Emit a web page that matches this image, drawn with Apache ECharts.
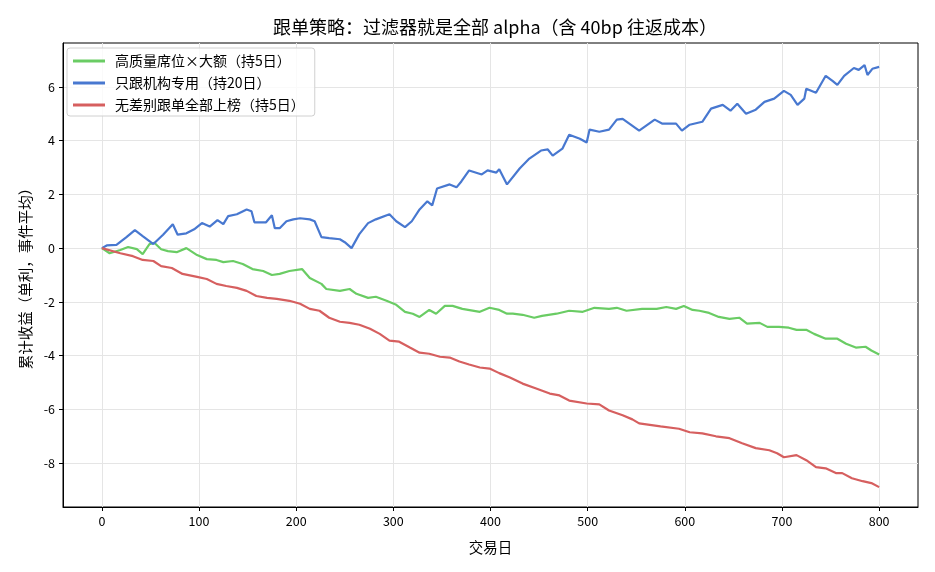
<!DOCTYPE html>
<html>
<head>
<meta charset="utf-8">
<script src="https://cdn.jsdelivr.net/npm/echarts@6/dist/echarts.min.js"></script>
<style>
  html, body { margin: 0; padding: 0; background: #fff; }
  #main { width: 935px; height: 572px; }
</style>
</head>
<body>
<div id="main"></div>
<script>
// 读图估计的数据点 [交易日, 累计收益]
var highQualityData = [
    [0,0],[8,-0.19],[19,-0.07],[27,0.04],[36,-0.04],[42,-0.22],[49,0.15],[54,0.2],[61,-0.04],[68,-0.11],
    [77,-0.15],[87,0.0],[98,-0.26],[108,-0.41],[118,-0.44],[125,-0.52],[135,-0.48],[145,-0.59],[155,-0.78],
    [166,-0.85],[175,-1.0],[183,-0.96],[193,-0.85],[206,-0.78],[214,-1.11],[226,-1.33],[231,-1.52],[245,-1.59],
    [255,-1.52],[262,-1.70],[274,-1.85],[282,-1.81],[293,-1.96],[303,-2.11],[312,-2.37],[320,-2.44],[327,-2.56],
    [337,-2.30],[344,-2.44],[353,-2.15],[361,-2.15],[371,-2.26],[389,-2.37],[399,-2.22],[409,-2.30],[417,-2.44],
    [423,-2.44],[433,-2.48],[445,-2.59],[453,-2.52],[468,-2.44],[481,-2.33],[495,-2.37],[507,-2.22],[522,-2.26],
    [530,-2.22],[540,-2.33],[556,-2.26],[571,-2.26],[581,-2.19],[591,-2.26],[599,-2.15],[608,-2.30],[615,-2.33],
    [625,-2.41],[635,-2.56],[646,-2.63],[656,-2.59],[664,-2.81],[677,-2.78],[685,-2.93],[697,-2.93],[707,-2.96],
    [715,-3.04],[725,-3.04],[733,-3.19],[745,-3.37],[757,-3.37],[766,-3.56],[776,-3.70],[786,-3.67],[792,-3.81],
    [800,-3.96]
];
var institutionData = [
    [0,0],[5,0.1],[15,0.12],[25,0.4],[34,0.67],[42,0.45],[53,0.15],[63,0.5],[73,0.89],[78,0.5],[87,0.55],
    [95,0.7],[103,0.93],[111,0.8],[119,1.04],[125,0.89],[130,1.19],[139,1.26],[149,1.44],[154,1.37],[157,0.96],
    [169,0.96],[175,1.22],[178,0.74],[183,0.74],[190,1.0],[197,1.07],[204,1.11],[214,1.07],[219,1.0],[226,0.41],
    [234,0.37],[245,0.33],[250,0.22],[257,0.0],[265,0.52],[274,0.93],[282,1.07],[296,1.26],[303,1.0],[312,0.78],
    [319,1.0],[327,1.44],[335,1.74],[340,1.59],[345,2.22],[358,2.37],[365,2.26],[370,2.48],[378,2.89],[391,2.74],
    [397,2.89],[406,2.81],[409,2.93],[417,2.37],[430,2.96],[440,3.33],[452,3.63],[459,3.67],[464,3.44],[474,3.70],
    [481,4.22],[492,4.07],[499,3.93],[502,4.41],[512,4.33],[522,4.41],[530,4.78],[536,4.81],[553,4.37],[569,4.78],
    [577,4.63],[591,4.63],[597,4.37],[605,4.59],[618,4.70],[627,5.19],[639,5.33],[647,5.11],[654,5.37],[663,5.0],
    [673,5.15],[682,5.44],[692,5.56],[702,5.85],[709,5.70],[716,5.33],[723,5.56],[725,5.93],[735,5.78],[745,6.41],
    [752,6.22],[757,6.07],[764,6.41],[774,6.70],[779,6.63],[785,6.81],[788,6.44],[793,6.67],[800,6.74]
];
var allListData = [
    [0,0],[19,-0.19],[32,-0.30],[42,-0.44],[53,-0.48],[61,-0.67],[72,-0.74],[83,-0.96],[98,-1.07],[108,-1.15],
    [118,-1.33],[128,-1.41],[139,-1.48],[149,-1.59],[159,-1.78],[170,-1.85],[180,-1.89],[193,-1.96],[204,-2.07],
    [214,-2.26],[224,-2.33],[234,-2.59],[245,-2.74],[255,-2.78],[265,-2.85],[276,-3.0],[286,-3.19],[296,-3.44],
    [306,-3.48],[317,-3.70],[327,-3.89],[337,-3.93],[348,-4.04],[358,-4.07],[368,-4.22],[378,-4.33],[389,-4.44],
    [399,-4.48],[409,-4.65],[420,-4.81],[433,-5.04],[447,-5.22],[461,-5.41],[471,-5.48],[481,-5.67],[499,-5.78],
    [512,-5.81],[522,-6.04],[536,-6.22],[546,-6.37],[553,-6.52],[575,-6.63],[594,-6.72],[605,-6.85],[618,-6.89],
    [632,-7.0],[646,-7.07],[659,-7.26],[673,-7.44],[687,-7.52],[695,-7.63],[702,-7.78],[715,-7.70],[725,-7.89],
    [735,-8.15],[745,-8.19],[756,-8.37],[762,-8.37],[772,-8.56],[783,-8.67],[792,-8.74],[800,-8.89]
];
var seriesNames = ['高质量席位×大额（持5日）', '只跟机构专用（持20日）', '无差别跟单全部上榜（持5日）'];
var xTicks = [0, 100, 200, 300, 400, 500, 600, 700, 800];
var yTicks = [-8, -6, -4, -2, 0, 2, 4, 6];

var font = '"Noto Sans CJK SC", "Noto Sans", sans-serif';

var option = {
    backgroundColor: '#fff',
    textStyle: { fontFamily: font },
    title: {
        text: '跟单策略：过滤器就是全部 alpha（含 40bp 往返成本）',
        left: 490,
        textAlign: 'center',
        top: 13,
        textStyle: { fontSize: 18, fontWeight: 'normal', color: '#000', fontFamily: font }
    },
    legend: {
        data: seriesNames,
        orient: 'vertical',
        left: 67,
        top: 48,
        padding: [6, 10, 4, 6],
        itemGap: 8,
        itemWidth: 32,
        itemHeight: 3,
        icon: 'rect',
        backgroundColor: 'rgba(255,255,255,0.8)',
        borderColor: '#d0d0d0',
        borderWidth: 1,
        borderRadius: 3,
        textStyle: { fontSize: 14, lineHeight: 14, color: '#000', fontFamily: font, padding: [0, 0, 0, 5] }
    },
    grid: {
        left: 63,
        right: 17,
        top: 43,
        bottom: 65,
        show: true,
        borderColor: '#000',
        borderWidth: 1
    },
    xAxis: {
        type: 'value',
        min: -40,
        max: 840,
        name: '交易日',
        nameLocation: 'middle',
        nameGap: 33,
        nameTextStyle: { fontSize: 14.5, color: '#000' },
        axisLine: { show: true, onZero: false, lineStyle: { color: '#000' } },
        axisTick: { show: true, length: 4, customValues: xTicks, lineStyle: { color: '#000' } },
        axisLabel: { customValues: xTicks, fontSize: 12.5, color: '#000', margin: 8 },
        splitLine: { show: true, lineStyle: { color: '#e5e5e5', width: 1 } }
    },
    yAxis: {
        type: 'value',
        min: -9.63,
        max: 7.63,
        name: '累计收益（单利，事件平均）',
        nameLocation: 'middle',
        nameGap: 29,
        nameTextStyle: { fontSize: 14.5, color: '#000' },
        axisLine: { show: true, onZero: false, lineStyle: { color: '#000' } },
        axisTick: { show: true, length: 4, customValues: yTicks, lineStyle: { color: '#000' } },
        axisLabel: { customValues: yTicks, fontSize: 12.5, color: '#000', margin: 8 },
        splitLine: { show: true, lineStyle: { color: '#e5e5e5', width: 1 } }
    },
    series: [
        {
            name: seriesNames[0],
            type: 'line',
            data: highQualityData,
            showSymbol: false,
            color: '#6acc64',
            lineStyle: { width: 2.2 },
            z: 3
        },
        {
            name: seriesNames[1],
            type: 'line',
            data: institutionData,
            showSymbol: false,
            color: '#4878d0',
            lineStyle: { width: 2.2 },
            z: 3
        },
        {
            name: seriesNames[2],
            type: 'line',
            data: allListData,
            showSymbol: false,
            color: '#d65f5f',
            lineStyle: { width: 2.2 },
            z: 3
        }
    ]
};

var myChart = echarts.init(document.getElementById('main'));
myChart.setOption(option);
</script>
</body>
</html>
